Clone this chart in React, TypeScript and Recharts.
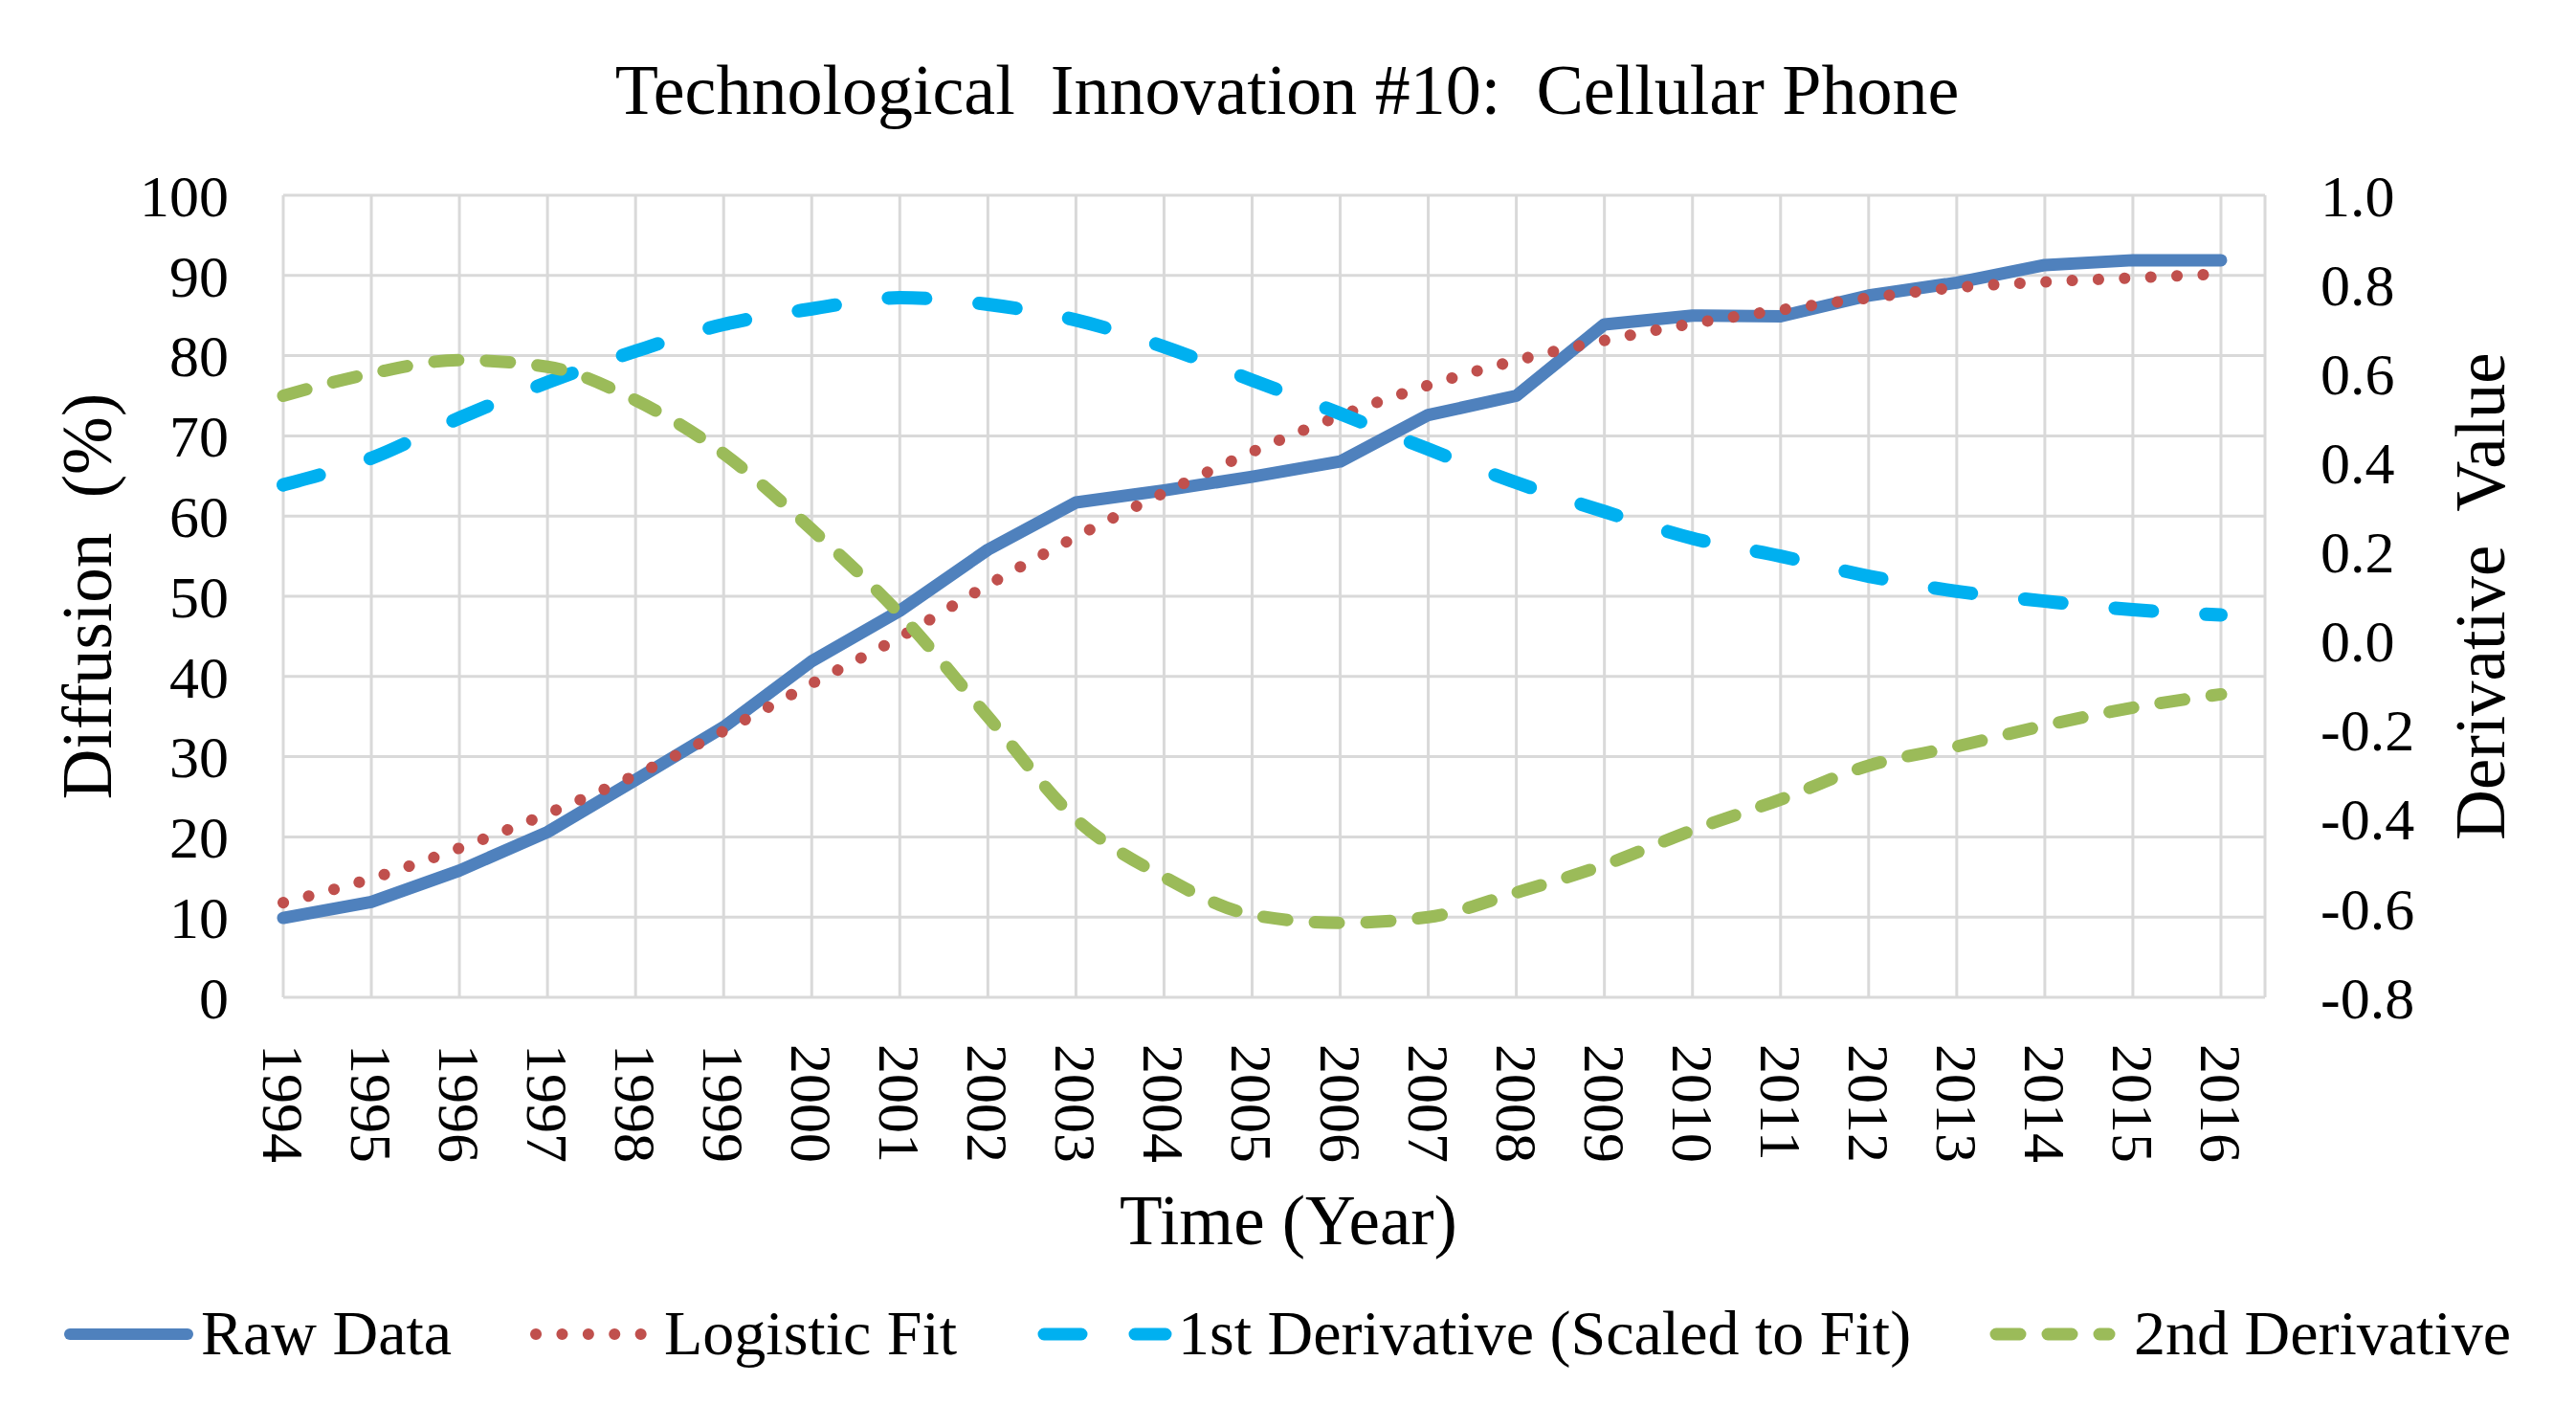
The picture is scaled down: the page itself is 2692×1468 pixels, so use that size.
import React from 'react';
import { LineChart, Line, XAxis, YAxis, CartesianGrid } from 'recharts';

// ---- data ----
const years = [1994, 1995, 1996, 1997, 1998, 1999, 2000, 2001, 2002, 2003, 2004, 2005, 2006, 2007, 2008, 2009, 2010, 2011, 2012, 2013, 2014, 2015, 2016];
const rawData = [9.9, 11.9, 15.8, 20.6, 27.1, 33.7, 41.9, 48.2, 55.8, 61.7, 63.2, 64.9, 66.8, 72.6, 75.0, 83.9, 85.0, 84.9, 87.5, 89.1, 91.3, 91.9, 91.9];
const logisticFit = [11.8, 14.8, 18.6, 22.9, 27.7, 33.2, 39.1, 44.9, 51.4, 57.4, 62.9, 68.0, 72.5, 76.3, 79.4, 81.9, 84.0, 85.7, 87.2, 88.5, 89.2, 89.7, 90.2];
const firstDerivative = [0.35, 0.41, 0.5, 0.58, 0.65, 0.71, 0.745, 0.77, 0.755, 0.72, 0.66, 0.585, 0.51, 0.43, 0.355, 0.29, 0.23, 0.19, 0.145, 0.111, 0.089, 0.07, 0.058];
const secondDerivative = [0.55, 0.6, 0.63, 0.615, 0.54, 0.42, 0.25, 0.06, -0.17, -0.4, -0.53, -0.615, -0.633, -0.62, -0.565, -0.503, -0.425, -0.356, -0.28, -0.237, -0.19, -0.15, -0.12];
const leftTicks = [0, 10, 20, 30, 40, 50, 60, 70, 80, 90, 100];
const rightTicks = [-0.8, -0.6, -0.4, -0.2, 0, 0.2, 0.4, 0.6, 0.8, 1.0];
const seriesNames = ['Raw Data', 'Logistic Fit', '1st Derivative (Scaled to Fit)', '2nd Derivative'];

const data = years.map((year, i) => ({
  year,
  raw: rawData[i],
  logistic: logisticFit[i],
  d1: firstDerivative[i],
  d2: secondDerivative[i],
}));

const FONT = '"Liberation Serif", "Times New Roman", serif';
const BLUE = '#4F81BD';
const RED = '#C0504D';
const CYAN = '#00B0F0';
const GREEN = '#9BBB59';
const DOTS = '0.1 27.3';
const D1DASH = '39 56';
const D2DASH = '25 29';

const LeftTick = (props: any) => {
  const { x, y, payload } = props;
  return (
    <text x={x} y={y} dy="0.35em" textAnchor="end" fontFamily={FONT} fontSize={62} fill="#000">
      {payload.value}
    </text>
  );
};

const RightTick = (props: any) => {
  const { x, y, payload } = props;
  return (
    <text x={x} y={y} dy="0.35em" textAnchor="start" fontFamily={FONT} fontSize={62} fill="#000">
      {Number(payload.value).toFixed(1)}
    </text>
  );
};

const BottomTick = (props: any) => {
  const { x, y, payload } = props;
  return (
    <text x={x} y={y} dy={21} transform={`rotate(90, ${x}, ${y})`} textAnchor="start" fontFamily={FONT} fontSize={62} fill="#000">
      {payload.value}
    </text>
  );
};

const LeftTitle = (props: any) => {
  const vb = props.viewBox || { x: 96, y: 204, width: 200, height: 838 };
  const cx = vb.x + 20;
  const cy = vb.y + vb.height / 2;
  return (
    <text x={cx} y={cy} transform={`rotate(-90, ${cx}, ${cy})`} textAnchor="middle" fontFamily={FONT} fontSize={73} fill="#000" style={{ whiteSpace: 'pre' }}>
      {'Diffusion  (%)'}
    </text>
  );
};

const RightTitle = (props: any) => {
  const vb = props.viewBox || { x: 2367, y: 204, width: 200, height: 838 };
  const cx = vb.x + 250;
  const cy = vb.y + vb.height / 2;
  return (
    <text x={cx} y={cy} transform={`rotate(-90, ${cx}, ${cy})`} textAnchor="middle" fontFamily={FONT} fontSize={73} fill="#000" style={{ whiteSpace: 'pre' }}>
      {'Derivative  Value'}
    </text>
  );
};

const BottomTitle = (props: any) => {
  const vb = props.viewBox || { x: 296, y: 1042, width: 2071, height: 200 };
  const cx = vb.x + vb.width / 2 + 15;
  const cy = vb.y + 258;
  return (
    <text x={cx} y={cy} textAnchor="middle" fontFamily={FONT} fontSize={73} fill="#000">
      Time (Year)
    </text>
  );
};

export default function App() {
  return (
    <div style={{ position: 'absolute', left: 0, top: 0, width: 2692, height: 1468, background: '#fff' }}>
      <div style={{ position: 'absolute', left: 0, top: 0 }}>
        <LineChart width={2692} height={1468} data={data} margin={{ top: 204, right: 125, bottom: 226, left: 96 }}>
          <CartesianGrid yAxisId="left" stroke="#D9D9D9" strokeWidth={3} />
          <XAxis
            dataKey="year"
            type="number"
            domain={[1994, 2016.5]}
            ticks={years}
            interval={0}
            axisLine={false}
            tickLine={false}
            tickSize={0}
            tickMargin={49}
            height={200}
            tick={<BottomTick />}
            label={<BottomTitle />}
          />
          <YAxis
            yAxisId="left"
            domain={[0, 100]}
            ticks={leftTicks}
            interval={0}
            axisLine={false}
            tickLine={false}
            tickSize={0}
            tickMargin={57}
            width={200}
            tick={<LeftTick />}
            label={<LeftTitle />}
          />
          <YAxis
            yAxisId="right"
            orientation="right"
            domain={[-0.8, 1.0]}
            ticks={rightTicks}
            interval={0}
            axisLine={false}
            tickLine={false}
            tickSize={0}
            tickMargin={58}
            width={200}
            tick={<RightTick />}
            label={<RightTitle />}
          />
          <Line yAxisId="left" type="linear" dataKey="raw" name={seriesNames[0]} stroke={BLUE} strokeWidth={13} strokeLinecap="round" strokeLinejoin="round" dot={false} activeDot={false} isAnimationActive={false} />
          <Line yAxisId="left" type="monotone" dataKey="logistic" name={seriesNames[1]} stroke={RED} strokeWidth={12} strokeDasharray={DOTS} strokeLinecap="round" dot={false} activeDot={false} isAnimationActive={false} />
          <Line yAxisId="right" type="monotone" dataKey="d1" name={seriesNames[2]} stroke={CYAN} strokeWidth={14} strokeDasharray={D1DASH} strokeLinecap="round" dot={false} activeDot={false} isAnimationActive={false} />
          <Line yAxisId="right" type="monotone" dataKey="d2" name={seriesNames[3]} stroke={GREEN} strokeWidth={13} strokeDasharray={D2DASH} strokeLinecap="round" dot={false} activeDot={false} isAnimationActive={false} />
        </LineChart>
      </div>
      <svg width={2692} height={1468} style={{ position: 'absolute', left: 0, top: 0, pointerEvents: 'none' }}>
        <text x={1345} y={119} textAnchor="middle" fontFamily={FONT} fontSize={74} fill="#000" style={{ whiteSpace: 'pre' }}>
          {'Technological  Innovation #10:  Cellular Phone'}
        </text>
        <g>
          <line x1={73} x2={196} y1={1394} y2={1394} stroke={BLUE} strokeWidth={12} strokeLinecap="round" />
          <text x={210} y={1415} fontFamily={FONT} fontSize={66} fill="#000">{seriesNames[0]}</text>
          <line x1={560} x2={671} y1={1394} y2={1394} stroke={RED} strokeWidth={12} strokeDasharray={DOTS} strokeLinecap="round" />
          <text x={694} y={1415} fontFamily={FONT} fontSize={66} fill="#000">{seriesNames[1]}</text>
          <line x1={1091} x2={1218} y1={1394} y2={1394} stroke={CYAN} strokeWidth={13} strokeDasharray={D1DASH} strokeLinecap="round" />
          <text x={1231} y={1415} fontFamily={FONT} fontSize={66} fill="#000">{seriesNames[2]}</text>
          <line x1={2086} x2={2204} y1={1394} y2={1394} stroke={GREEN} strokeWidth={13} strokeDasharray={D2DASH} strokeLinecap="round" />
          <text x={2230} y={1415} fontFamily={FONT} fontSize={66} fill="#000">{seriesNames[3]}</text>
        </g>
      </svg>
    </div>
  );
}
